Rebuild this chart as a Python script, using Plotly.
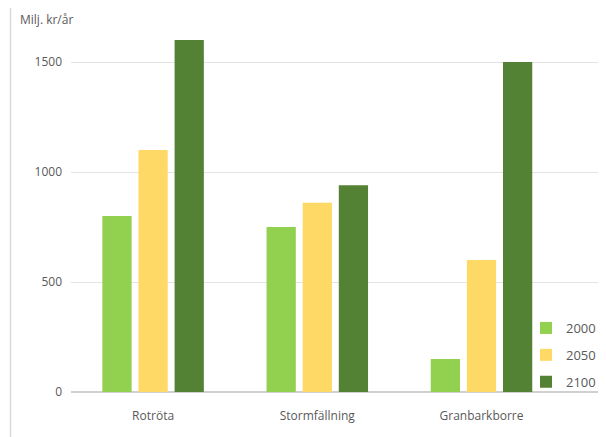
import plotly.graph_objects as go

categories = ["Rotröta", "Stormfällning", "Granbarkborre"]
years = ["2000", "2050", "2100"]
values_2000 = [800, 750, 150]
values_2050 = [1100, 860, 600]
values_2100 = [1600, 940, 1500]
colors = ["#92D050", "#FFD966", "#548235"]
y_ticks = [0, 500, 1000, 1500]
y_title = "Milj. kr/år"

# page has an 8px body margin: figure drawn 8px right/down
W, H = 598, 429
ml, mr, mt, mb = 63, 0, 22, 45
pw = W - ml - mr
ph = H - mt - mb
bottom = mt + ph

fig = go.Figure()
for name, vals, col in zip(years, [values_2000, values_2050, values_2100], colors):
    fig.add_trace(go.Bar(x=categories, y=vals, name=name, marker_color=col,
                         marker_line_width=0, legendgroup=name))

fam = "'Open Sans', Lato, sans-serif"
fig.update_layout(
    width=W, height=H,
    margin=dict(l=ml, r=mr, t=mt, b=mb),
    paper_bgcolor="white", plot_bgcolor="white",
    font=dict(family=fam, size=12, color="#595959"),
    barmode="group", bargap=0.34, bargroupgap=0.19,
    showlegend=True,
    legend=dict(x=(518 - ml) / pw, xanchor="left", y=(bottom - 305) / ph, yanchor="top",
                bgcolor="rgba(0,0,0,0)", font=dict(family=fam, size=13, color="#595959"),
                tracegroupgap=7, itemwidth=30),
    xaxis=dict(range=[-0.5, -0.5 + pw / 164.2], showgrid=False, showline=False,
               zeroline=False, ticks="", ticklabelstandoff=15,
               tickfont=dict(family=fam, size=12, color="#595959")),
    yaxis=dict(range=[0, ph / 0.22], tickvals=y_ticks,
               showgrid=True, gridcolor="#E3E3E3", gridwidth=1,
               zeroline=True, zerolinecolor="#D0D0D0", zerolinewidth=1.5,
               showline=False, ticks="", ticklabelstandoff=8,
               tickfont=dict(family=fam, size=12, color="#595959")),
    annotations=[dict(text=y_title, xref="paper", yref="paper",
                      x=(10 - ml) / pw, y=1 + 10 / ph, xanchor="left", yanchor="middle",
                      showarrow=False, font=dict(family=fam, size=12, color="#595959"))],
    shapes=[dict(type="line", xref="paper", yref="paper",
                 x0=(2.5 - ml) / pw, x1=(2.5 - ml) / pw,
                 y0=-mb / ph - 0.05, y1=1 + mt / ph + 0.05,
                 line=dict(color="#D9D9D9", width=1.5))],
)

fig.write_html("out.html")
